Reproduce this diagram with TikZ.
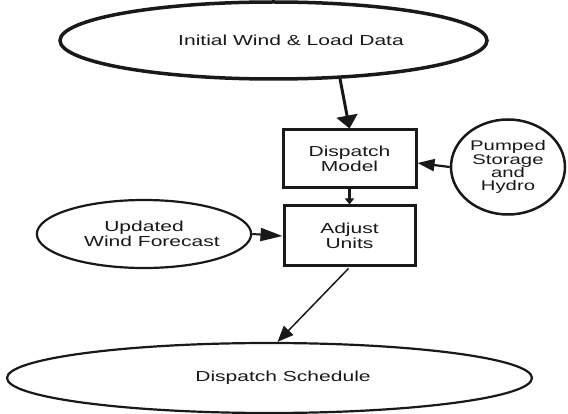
\documentclass[tikz,border=0pt]{standalone}
\usepackage{fontspec}
\setmainfont{Liberation Sans}[FakeStretch=1.45]
\usetikzlibrary{shapes.geometric,arrows.meta,calc}
\begin{document}
\begin{tikzpicture}[x=1pt,y=-1pt,
  txt/.style={font=\fontsize{14.5}{15.5}\selectfont, text=black!90, align=center, inner sep=0pt},
  oval/.style={ellipse, draw=black!90, txt},
  boxnode/.style={rectangle, draw=black!90, line width=3pt, txt},
  arr/.style={draw=black!90, line width=#1},
]
\useasboundingbox (0,0) rectangle (568,414);
\node[oval, line width=3.5pt, minimum width=427pt, minimum height=77pt] (top) at (273.5,40.5)
  {\hspace*{35pt}Initial Wind \& Load Data};
\node[boxnode, minimum width=133pt, minimum height=58pt] (dm) at (349.5,159) {Dispatch\\Model};
\node[boxnode, minimum width=131pt, minimum height=60pt] (au) at (349.5,236) {Adjust\\Units};
\node[oval, line width=2.5pt, minimum width=114pt, minimum height=95pt,
  font=\fontsize{14}{13.2}\selectfont] (ps) at (508,167) {Pumped\\Storage\\and\\Hydro};
\node[oval, line width=2.2pt, minimum width=172pt, minimum height=68pt] (uw) at (144,234)
  {Updated\\\hspace*{16pt}Wind Forecast};
\node[oval, line width=2.2pt, minimum width=525pt, minimum height=70pt] (ds) at (269.5,378)
  {\hspace*{27pt}Dispatch Schedule};

\draw[arr=3pt, -{Triangle[length=13pt,width=21pt]}] ($(top.south)+(66.5,-2)$) -- (dm.north);
\draw[arr=2.8pt, -{Triangle[length=6pt,width=9pt]}] (dm.south) -- (au.north);
\draw[arr=2.2pt, -{Triangle[length=17pt,width=12pt]}] (ps.west) -- ($(dm.east)+(0,4)$);
\draw[arr=2pt, -{Triangle[length=22pt,width=13pt]}] (uw.east) -- (au.west);
\draw[arr=1.5pt, -{Triangle[length=16pt,width=13pt]}] ($(au.south)+(-1,1)$) -- ($(ds.north)+(8,0)$);
\end{tikzpicture}
\end{document}
